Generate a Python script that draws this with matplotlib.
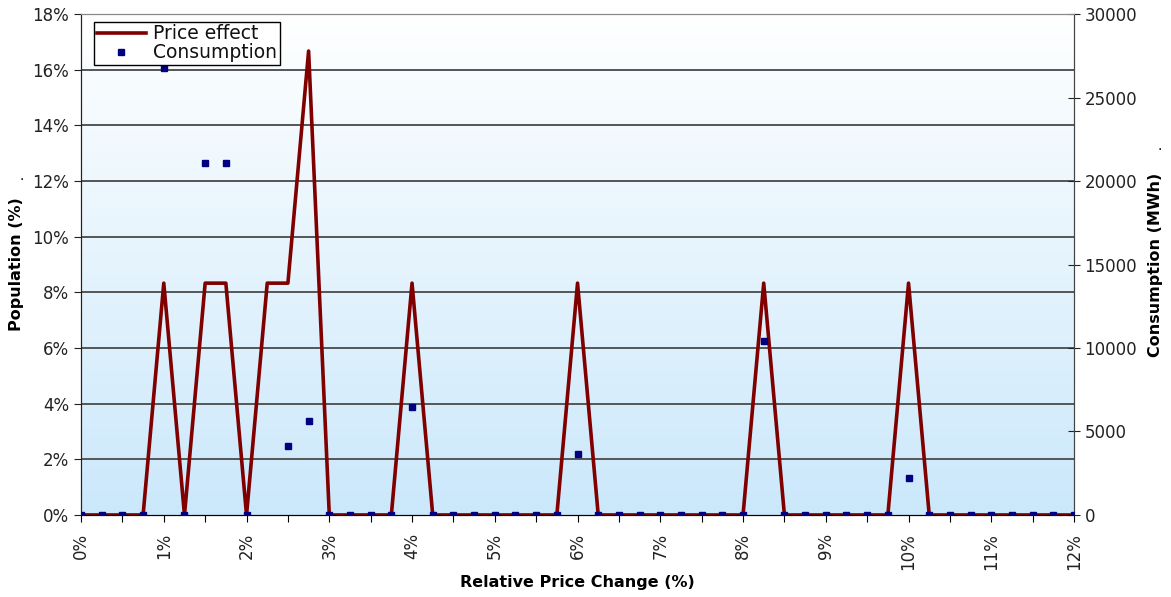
import matplotlib.pyplot as plt
import matplotlib.ticker as mticker
import numpy as np

# relative price change (%), every 0.25 %
price_change = [i * 0.25 for i in range(49)]

# population share (%) hit by each price change
price_effect = [0, 0, 0, 0, 8.33, 0, 8.33, 8.33, 0, 8.33, 8.33, 16.67, 0,
                0, 0, 0, 8.33, 0, 0, 0, 0, 0, 0, 0, 8.33, 0,
                0, 0, 0, 0, 0, 0, 0, 8.33, 0, 0, 0, 0, 0, 0, 8.33,
                0, 0, 0, 0, 0, 0, 0, 0]

# consumption (MWh), nan where no point is drawn
consumption = [0, 0, 0, 0, 26750, 0, 21100, 21100, 0, np.nan, 4150, 5600, 0,
               0, 0, 0, 6450, 0, 0, 0, 0, 0, 0, 0, 3650, 0,
               0, 0, 0, 0, 0, 0, 0, 10400, 0, 0, 0, 0, 0, 0, 2200,
               0, 0, 0, 0, 0, 0, 0, 0]

fig = plt.figure(figsize=(11.71, 5.97), dpi=100)
ax = fig.add_axes([0.0692, 0.1374, 0.848, 0.8391])
ax2 = ax.twinx()

# white -> light blue background gradient
grad = np.linspace(0, 1, 256).reshape(-1, 1)
top = np.array([1.0, 1.0, 1.0])
bot = np.array([0xcb, 0xe8, 0xfb]) / 255
img = top + grad[:, :, None] * (bot - top)
ax.imshow(img, extent=[0, 1, 0, 1], transform=ax.transAxes, aspect='auto', zorder=0)

for v in range(2, 18, 2):
    ax.axhline(v, color='#555555', lw=1.4, zorder=1)

l1, = ax.plot(price_change, price_effect, color='#800000', lw=2.6, zorder=3, label='Price effect')
s1, = ax2.plot(price_change, consumption, ls='none', marker='s', ms=5,
               color='#000080', zorder=4, label='Consumption')
ax.set_zorder(ax2.get_zorder() - 1)
ax2.patch.set_visible(False)

ax.set_xlim(0, 12)
ax.set_ylim(0, 18)
ax2.set_ylim(0, 30000)

ax.set_xticks(np.arange(0, 12.01, 0.5))
ax.set_xticklabels([f'{int(v)}%' if v == int(v) else '' for v in np.arange(0, 12.01, 0.5)],
                   rotation=90, fontsize=12, color='#222222')
ax.set_yticks(range(0, 19, 2))
ax.yaxis.set_major_formatter(mticker.FuncFormatter(lambda v, p: f'{int(v)}%'))
ax.tick_params(axis='y', labelsize=12, colors='#222222', length=5)
ax.tick_params(axis='x', length=5, pad=8)
ax2.set_yticks(range(0, 30001, 5000))
ax2.tick_params(axis='y', labelsize=12, colors='#222222', direction='inout', length=8)

for a in (ax, ax2):
    a.spines['top'].set_color('#888888')
    a.spines['left'].set_color('#222222')
    a.spines['right'].set_color('#444444')
    a.spines['bottom'].set_color('black')

ax.set_xlabel('Relative Price Change (%)', fontsize=11.5, fontweight='bold', labelpad=4)
ax.set_ylabel('Population (%)', fontsize=11.5, fontweight='bold', labelpad=6)
ax2.set_ylabel('Consumption (MWh)', fontsize=11.5, fontweight='bold', labelpad=8)

fig.text(22 / 1171, 1 - 180 / 597, '.', fontsize=10, ha='center')
fig.text(1160 / 1171, 1 - 150 / 597, '.', fontsize=10, ha='center')

leg = ax2.legend([l1, s1], ['Price effect', 'Consumption'], loc='upper left',
                 bbox_to_anchor=(0.013, 0.985), fontsize=13.5, fancybox=False,
                 framealpha=1, edgecolor='black', borderpad=0.15, labelspacing=0.0,
                 handlelength=2.6, handletextpad=0.4, borderaxespad=0)
leg.get_frame().set_linewidth(1.0)
for t in leg.get_texts():
    t.set_color('#111111')

fig.savefig('out.png', dpi=100)
